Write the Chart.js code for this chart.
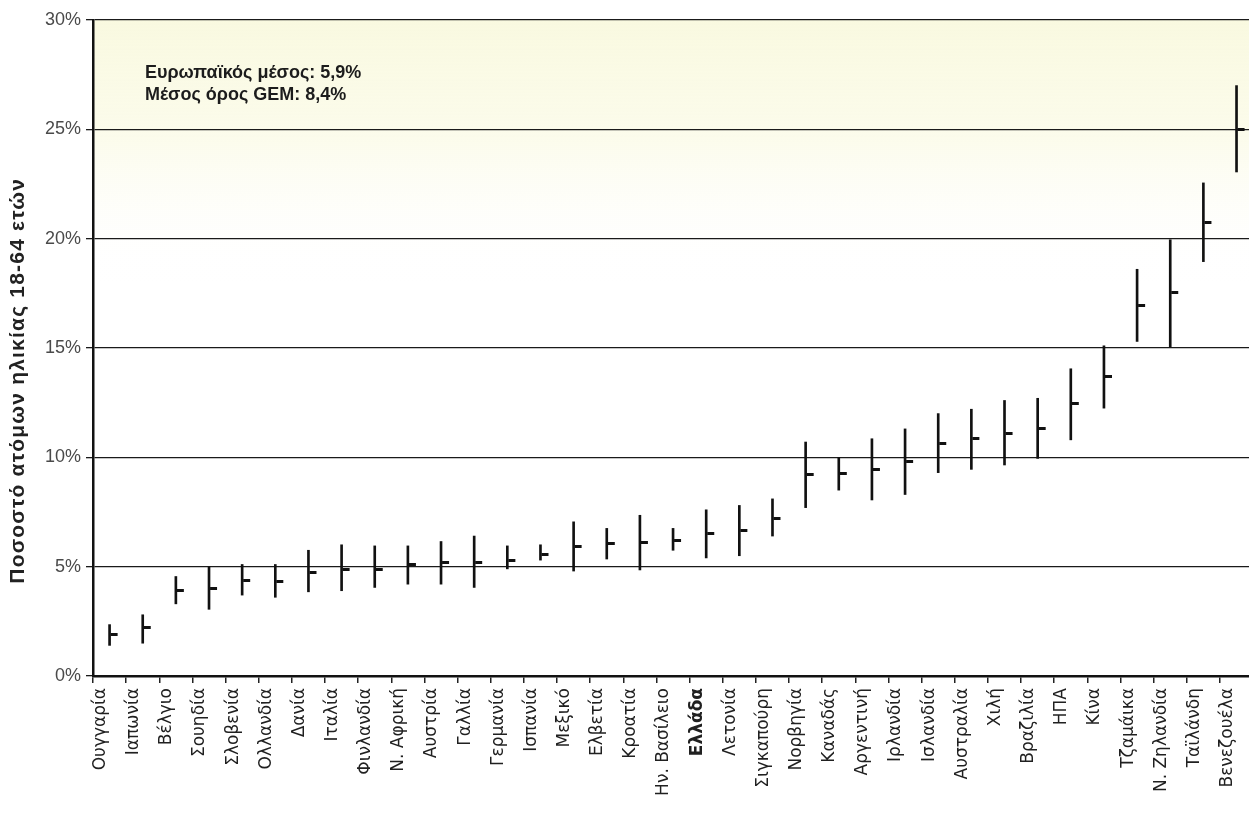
<!DOCTYPE html>
<html>
<head>
<meta charset="utf-8">
<title>Ποσοστό ατόμων ηλικίας 18-64 ετών</title>
<script src="https://cdn.jsdelivr.net/npm/chart.js@4.4.1/dist/chart.umd.min.js"></script>
<style>
  html, body { margin: 0; padding: 0; background: #ffffff; overflow: hidden; }
  #wrap { position: relative; width: 1262px; height: 813px; }
</style>
</head>
<body>
<div id="wrap"><canvas id="chart"></canvas></div>
<script>
// Countries, ordered by their estimate
const countries = [
  'Ουγγαρία', 'Ιαπωνία', 'Βέλγιο', 'Σουηδία', 'Σλοβενία', 'Ολλανδία', 'Δανία',
  'Ιταλία', 'Φινλανδία', 'Ν. Αφρική', 'Αυστρία', 'Γαλλία', 'Γερμανία', 'Ισπανία',
  'Μεξικό', 'Ελβετία', 'Κροατία', 'Ην. Βασίλειο', 'Ελλάδα', 'Λετονία', 'Σιγκαπούρη',
  'Νορβηγία', 'Καναδάς', 'Αργεντινή', 'Ιρλανδία', 'Ισλανδία', 'Αυστραλία', 'Χιλή',
  'Βραζιλία', 'ΗΠΑ', 'Κίνα', 'Τζαμάικα', 'Ν. Ζηλανδία', 'Ταϊλάνδη', 'Βενεζουέλα'
];

// Point estimate (%)
const estimate = [
  1.9, 2.2, 3.9, 4.0, 4.35, 4.3, 4.75,
  4.85, 4.85, 5.1, 5.2, 5.2, 5.3, 5.55,
  5.9, 6.05, 6.1, 6.2, 6.5, 6.65, 7.2,
  9.2, 9.25, 9.45, 9.8, 10.65, 10.85, 11.1,
  11.3, 12.45, 13.7, 16.95, 17.55, 20.75, 25.0
];

// Confidence interval, lower bound (%)
const lower = [
  1.4, 1.5, 3.3, 3.05, 3.7, 3.6, 3.85,
  3.9, 4.05, 4.2, 4.2, 4.05, 4.9, 5.3,
  4.8, 5.35, 4.85, 5.75, 5.4, 5.5, 6.4,
  7.7, 8.5, 8.05, 8.3, 9.3, 9.45, 9.65,
  9.95, 10.8, 12.25, 15.3, 15.05, 18.95, 23.05
];

// Confidence interval, upper bound (%)
const upper = [
  2.35, 2.8, 4.55, 5.0, 5.1, 5.1, 5.75,
  6.0, 5.95, 5.95, 6.15, 6.4, 5.95, 6.0,
  7.05, 6.75, 7.35, 6.75, 7.6, 7.8, 8.1,
  10.7, 10.0, 10.85, 11.3, 12.0, 12.2, 12.6,
  12.7, 14.05, 15.1, 18.6, 19.95, 22.55, 27.0
];

const yTickValues = [0, 5, 10, 15, 20, 25, 30];
const yAxisTitle = 'Ποσοστό ατόμων ηλικίας 18-64 ετών';
const averageNotes = ['Ευρωπαϊκός μέσος: 5,9%', 'Μέσος όρος GEM: 8,4%'];
const highlightedCountry = 'Ελλάδα';

// Short horizontal dash drawn to the right of each interval line
const dashMarker = (() => {
  const c = document.createElement('canvas');
  c.width = 18; c.height = 3;
  const g = c.getContext('2d');
  g.fillStyle = '#111111';
  g.fillRect(10, 0, 7, 3);
  return c;
})();

// Pale yellow haze across the top band of the plot
const hazeBackground = {
  id: 'hazeBackground',
  beforeDraw(chart) {
    const { ctx, chartArea: a, scales: { y } } = chart;
    const grad = ctx.createLinearGradient(0, y.getPixelForValue(30), 0, y.getPixelForValue(18));
    grad.addColorStop(0, 'rgba(249,249,224,1)');
    grad.addColorStop(0.45, 'rgba(251,251,232,0.85)');
    grad.addColorStop(1, 'rgba(255,255,255,0)');
    ctx.save();
    ctx.fillStyle = grad;
    ctx.fillRect(a.left, a.top, a.right - a.left, y.getPixelForValue(18) - a.top);
    ctx.restore();
  }
};

// Average notes in the upper left of the plot, and the vertical axis title
const textPlugin = {
  id: 'textPlugin',
  afterDraw(chart) {
    const { ctx, chartArea: a, scales: { y } } = chart;
    ctx.save();
    ctx.font = 'bold 18px "Liberation Sans", Arial, sans-serif';
    ctx.fillStyle = '#1c1c1c';
    ctx.textBaseline = 'alphabetic';
    ctx.textAlign = 'left';
    averageNotes.forEach((t, i) => ctx.fillText(t, a.left + 52, a.top + 58 + i * 22));
    ctx.restore();

    // axis title, running upwards beside the tick labels
    ctx.save();
    ctx.translate(18, y.getPixelForValue(13.5));
    ctx.rotate(-Math.PI / 2);
    ctx.font = 'bold 21px "Liberation Sans", Arial, sans-serif';
    if ('letterSpacing' in ctx) ctx.letterSpacing = '1.2px';
    ctx.fillStyle = '#222222';
    ctx.textAlign = 'center';
    ctx.textBaseline = 'middle';
    ctx.fillText(yAxisTitle, 0, 0);
    ctx.restore();
  }
};

const ctx = document.getElementById('chart').getContext('2d');
new Chart(ctx, {
  type: 'bar',
  data: {
    labels: countries,
    datasets: [
      {
        type: 'line',
        label: 'estimate',
        data: estimate,
        showLine: false,
        pointStyle: dashMarker,
        pointRadius: 4,
        pointHoverRadius: 4,
        order: 0
      },
      {
        label: 'interval',
        data: countries.map((_, i) => [lower[i], upper[i]]),
        backgroundColor: '#111111',
        borderWidth: 0,
        barThickness: 2,
        order: 1
      }
    ]
  },
  options: {
    responsive: true,
    maintainAspectRatio: false,
    animation: false,
    layout: { padding: { top: 20, right: 3, left: 0, bottom: 0 } },
    plugins: {
      legend: { display: false },
      tooltip: { enabled: false }
    },
    scales: {
      x: {
        type: 'category',
        offset: true,
        border: { display: true, color: '#111111', width: 2.5 },
        grid: {
          offset: true,
          drawOnChartArea: false,
          drawTicks: true,
          tickLength: 7,
          color: '#222222',
          lineWidth: 1.5
        },
        ticks: {
          autoSkip: false,
          minRotation: 90,
          maxRotation: 90,
          labelOffset: -9,
          padding: 5,
          color: '#202020',
          font: (c) => ({
            family: '"DejaVu Sans", sans-serif',
            size: 17,
            weight: (c.tick && c.tick.label === highlightedCountry) ? 'bold' : 'normal'
          })
        },
        afterFit: (scale) => { scale.height = 137; }
      },
      y: {
        min: 0,
        max: 30,
        afterBuildTicks: (scale) => { scale.ticks = yTickValues.map(v => ({ value: v })); },
        border: { display: true, color: '#111111', width: 2.5 },
        grid: {
          color: '#1a1a1a',
          lineWidth: 1.3,
          drawTicks: true,
          tickLength: 7
        },
        ticks: {
          padding: 5,
          color: '#4a4a4a',
          font: { family: '"Liberation Sans", Arial, sans-serif', size: 18 },
          callback: (v) => v + '%'
        },
        afterFit: (scale) => { scale.width = 93; }
      }
    }
  },
  plugins: [hazeBackground, textPlugin]
});
</script>
</body>
</html>
